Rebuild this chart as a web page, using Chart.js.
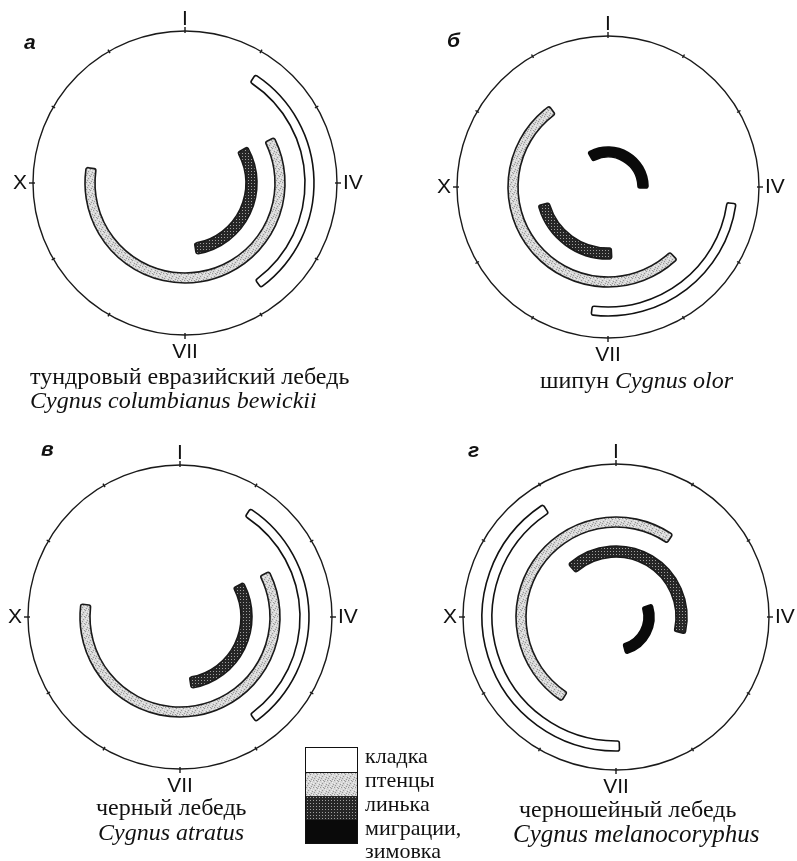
<!DOCTYPE html>
<html>
<head>
<meta charset="utf-8">
<script src="https://cdn.jsdelivr.net/npm/chart.js@4"></script>
<style>
  body { margin: 0; background: #fff; }
  #page { position: relative; width: 797px; height: 861px; overflow: hidden; color: #111;
          font-family: "Liberation Serif", "DejaVu Serif", serif; }
  canvas.dial { position: absolute; }
  .txt { position: absolute; line-height: 1; white-space: nowrap; }
  .txt i { font-style: italic; }
  .letter { position: absolute; font: italic bold 21px "Liberation Sans", Arial, sans-serif; line-height: 1; }
  #legendBox { position: absolute; left: 305px; top: 747px; width: 51px; border: 1.5px solid #111; }
  #legendBox div { height: 23.5px; }
</style>
</head>
<body>
<div id="page"></div>
<script>
// panels a-г
const panelLetters = ['а', 'б', 'в', 'г'];
const monthLabels = ['I', '', '', 'IV', '', '', 'VII', '', '', 'X', '', ''];
const phaseNames = ['кладка', 'птенцы', 'линька', 'миграции,', 'зимовка'];

// [start, end] in months counted clockwise from I
const laying    = [[1.1, 4.8], [3.25, 6.25], [1.1, 4.8], [5.95, 10.9]];
const chicks    = [[2.1, 9.3], [4.55, 10.8], [2.1, 9.25], [7.1, 13.15]];
const molt      = [[2.0, 5.7], [5.9, 8.5], [2.05, 5.7], [10.6, 15.45]];
const migration = [null, [11.0, 15.05], null, [2.35, 5.5]];

const speciesRu  = ['тундровый евразийский лебедь', 'шипун ', 'черный лебедь', 'черношейный лебедь'];
const speciesLat = ['Cygnus columbianus bewickii', 'Cygnus olor', 'Cygnus atratus', 'Cygnus melanocoryphus'];

// layout (px)
const centers = [[185, 183], [608, 187], [180, 617], [616, 617]];
const dialRadius = [152, 151, 152, 153];
const bandsStd = [[120, 129], [90, 100], [61, 72], [30, 40]];
const bandsG   = [[124, 134], [90, 100], [60, 71], [28, 38]];
const SIZE = 380;

const page = document.getElementById('page');

function makeTile(base, dot, step, pts, light, lpts) {
  const c = document.createElement('canvas');
  c.width = c.height = step;
  const g = c.getContext('2d');
  g.fillStyle = base;
  g.fillRect(0, 0, step, step);
  g.fillStyle = dot;
  pts.forEach(([x, y]) => g.fillRect(x, y, 1, 1));
  if (light) {
    g.fillStyle = light;
    lpts.forEach(([x, y]) => g.fillRect(x, y, 1, 1));
  }
  return c;
}
const lightTile = makeTile('#d6d6d6', '#979797', 7,
  [[0, 0], [4, 1], [2, 3], [6, 4], [1, 5], [5, 6], [3, 0]],
  '#f0f0f0', [[2, 1], [5, 2], [0, 3], [4, 4], [3, 6], [6, 0]]);
const darkTile = makeTile('#262626', '#a0a0a0', 3, [[1, 1]]);

const dialPlugin = {
  id: 'dial',
  afterDatasetsDraw(chart, args, opts) {
    const ctx = chart.ctx;
    const cx = (chart.chartArea.left + chart.chartArea.right) / 2;
    const cy = (chart.chartArea.top + chart.chartArea.bottom) / 2;
    const R = opts.radius;
    ctx.save();
    ctx.strokeStyle = '#1a1a1a';
    ctx.lineWidth = 1.4;
    ctx.beginPath();
    ctx.arc(cx, cy, R, 0, Math.PI * 2);
    ctx.stroke();
    ctx.fillStyle = '#111';
    ctx.font = '21px "Liberation Sans", Arial, sans-serif';
    monthLabels.forEach((lab, i) => {
      const a = i / 12 * Math.PI * 2 - Math.PI / 2;
      const c = Math.cos(a), s = Math.sin(a);
      const r1 = R - 2, r2 = R + (lab ? 4 : 2);
      ctx.beginPath();
      ctx.moveTo(cx + c * r1, cy + s * r1);
      ctx.lineTo(cx + c * r2, cy + s * r2);
      ctx.stroke();
      if (!lab) return;
      const gap = Math.abs(c) > 0.5 ? 6 : 1;
      ctx.textAlign = c > 0.5 ? 'left' : (c < -0.5 ? 'right' : 'center');
      ctx.textBaseline = s < -0.5 ? 'bottom' : (s > 0.5 ? 'top' : 'middle');
      ctx.fillText(lab, cx + c * (R + gap), cy + s * (R + gap + (s > 0.5 ? 6 : 0)));
    });
    ctx.restore();
  }
};

function ring(range, fill, border, w) {
  const len = range ? range[1] - range[0] : 0;
  return {
    data: [len, 12 - len],
    rotation: range ? range[0] * 30 : 0,
    backgroundColor: [fill, 'rgba(0,0,0,0)'],
    borderColor: [border, 'rgba(0,0,0,0)'],
    borderWidth: [len ? 1.6 : 0, 0],
    borderRadius: 2,
    borderJoinStyle: 'round',
    weight: w
  };
}
function spacer(w) {
  return { data: [12], backgroundColor: ['rgba(0,0,0,0)'], borderWidth: 0, weight: w };
}

panelLetters.forEach((letter, p) => {
  const [cx, cy] = centers[p];
  const cv = document.createElement('canvas');
  cv.className = 'dial';
  cv.width = SIZE; cv.height = SIZE;
  cv.style.left = (cx - SIZE / 2) + 'px';
  cv.style.top = (cy - SIZE / 2) + 'px';
  page.appendChild(cv);
  const ctx = cv.getContext('2d');
  const lightPat = ctx.createPattern(lightTile, 'repeat');
  const darkPat = ctx.createPattern(darkTile, 'repeat');

  const bands = p === 3 ? bandsG : bandsStd;
  const ranges = [laying[p], chicks[p], molt[p], migration[p]];
  const fills = ['#ffffff', lightPat, darkPat, '#0a0a0a'];
  const borders = ['#111', '#1a1a1a', '#1a1a1a', '#0a0a0a'];
  const datasets = [];
  bands.forEach((b, i) => {
    datasets.push(ring(ranges[i], fills[i], borders[i], b[1] - b[0]));
    if (i < bands.length - 1) datasets.push(spacer(b[0] - bands[i + 1][1]));
  });
  const outer = bands[0][1], inner = bands[bands.length - 1][0];

  new Chart(ctx, {
    type: 'doughnut',
    data: { labels: ['phase', 'rest'], datasets: datasets },
    options: {
      responsive: false,
      animation: false,
      events: [],
      radius: outer,
      cutout: (inner / outer * 100) + '%',
      layout: { padding: 0 },
      plugins: {
        legend: { display: false },
        tooltip: { enabled: false },
        dial: { radius: dialRadius[p] }
      }
    },
    plugins: [dialPlugin]
  });
});

function addText(html, cls, left, baseline, size) {
  const d = document.createElement('div');
  d.className = cls;
  d.innerHTML = html;
  d.style.fontSize = size + 'px';
  d.style.left = left + 'px';
  d.style.top = (baseline - Math.round(size * 0.89)) + 'px';
  page.appendChild(d);
}

// panel letters
const letterPos = [[24, 50], [447, 48], [41, 457], [468, 458]];
panelLetters.forEach((l, p) => addText(l, 'letter', letterPos[p][0], letterPos[p][1], 21));

// captions
addText(speciesRu[0], 'txt', 30, 385, 24);
addText('<i>' + speciesLat[0] + '</i>', 'txt', 30, 409, 24);
addText(speciesRu[1] + '<i>' + speciesLat[1] + '</i>', 'txt', 540, 389, 24);
addText(speciesRu[2], 'txt', 96, 816, 24);
addText('<i>' + speciesLat[2] + '</i>', 'txt', 98, 841, 24);
addText(speciesRu[3], 'txt', 519, 818, 24);
addText('<i>' + speciesLat[3] + '</i>', 'txt', 513, 843, 25);

// legend
const box = document.createElement('div');
box.id = 'legendBox';
const swatches = ['#ffffff', 'url(' + lightTile.toDataURL() + ')', 'url(' + darkTile.toDataURL() + ')', '#0a0a0a'];
swatches.forEach((bg, i) => {
  const s = document.createElement('div');
  s.style.background = bg;
  if (i === 0) s.style.borderBottom = '1.5px solid #111';
  box.appendChild(s);
});
page.appendChild(box);
const legendBase = [765, 789, 813, 837, 860];
phaseNames.forEach((n, i) => addText(n, 'txt', 365, legendBase[i], 22));
</script>
</body>
</html>
